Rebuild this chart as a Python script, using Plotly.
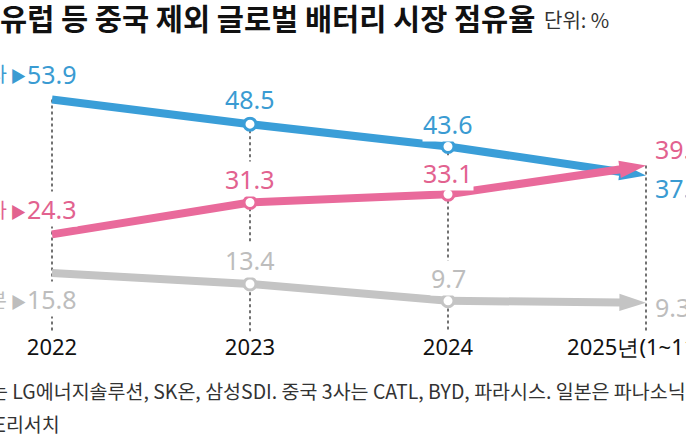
import plotly.graph_objects as go

# data
years = ["2022", "2023", "2024", "2025년(1~11월)"]
korea = [53.9, 48.5, 43.6, 37.2]
china = [24.3, 31.3, 33.1, 39.4]
japan = [15.8, 13.4, 9.7, 9.3]
series_names = ["한국 3사", "중국 3사", "일본"]

title = "유럽 등 중국 제외 글로벌 배터리 시장 점유율"
unit = "단위: %"
note = "한국 3사는 LG에너지솔루션, SK온, 삼성SDI. 중국 3사는 CATL, BYD, 파라시스. 일본은 파나소닉"
source = "자료: SNE리서치"

W, H = 686, 440
T, B = 80, 108
PLOT_H = H - T - B

NUM_FONT = "Noto Sans, sans-serif"
KR_FONT = "Noto Sans CJK KR, sans-serif"


def px_x(px):
    return px / W


def px_y(px):
    return (H - B - px) / PLOT_H


xs = list(range(len(years)))
styles = [
    # values, line colour, text colour, label shifts (x, y) per point, name label shift
    (korea, "#3a9ed8", "#3a9bd2", [(0, 26), (0, 25), (0, 22), (8, -12)], 26),
    (china, "#e96a9b", "#e2628f", [(0, 25), (0, 23), (0, 21), (8, 17)], 25),
    (japan, "#c4c4c4", "#bdbdbd", [(0, -26), (0, 24), (0, 23), (8, -4)], -26),
]

fig = go.Figure()

# dotted guide lines, from the top point down to the axis
for i in xs:
    top = max(korea[i], china[i], japan[i])
    fig.add_shape(
        type="line", xref="x", yref="y", x0=i, x1=i, y0=top, y1=0,
        line=dict(color="#444", width=1.5, dash="dot"), layer="below",
    )

annotations = []
for (vals, col, tcol, shifts, name_shift), name in zip(styles, series_names):
    n = len(vals)
    fig.add_trace(
        go.Scatter(
            x=xs, y=vals, mode="lines+markers", name=name,
            line=dict(color=col, width=8),
            marker=dict(
                symbol=["circle"] * (n - 1) + ["arrow"],
                angleref="previous",
                size=[12] * (n - 1) + [28],
                color=["white"] * (n - 1) + [col],
                line=dict(color=col, width=[3] * (n - 1) + [0]),
                opacity=1,
            ),
            hoverinfo="skip",
        )
    )
    for i, v in enumerate(vals):
        dx, dy = shifts[i]
        last = i == n - 1
        annotations.append(dict(
            x=i, y=v, xref="x", yref="y", text=f"{v:.1f}", showarrow=False,
            xanchor="left" if last else "center", yanchor="middle",
            xshift=dx, yshift=dy, bgcolor="white", borderpad=0,
            font=dict(family=NUM_FONT, size=25, color=tcol),
        ))
    annotations.append(dict(
        x=0, y=vals[0], xref="x", yref="y", showarrow=False,
        text=f"{name}<span style='font-size:16px'> ▶</span>",
        xanchor="right", yanchor="middle", xshift=-24, yshift=name_shift,
        font=dict(family=KR_FONT, size=20, color=tcol),
    ))

annotations += [
    dict(x=px_x(-2), y=px_y(17), xref="paper", yref="paper", text=f"<b>{title}</b>",
         showarrow=False, xanchor="left", yanchor="middle",
         font=dict(family=KR_FONT, size=29.5, color="#111")),
    dict(x=px_x(542), y=px_y(20), xref="paper", yref="paper", text=unit,
         showarrow=False, xanchor="left", yanchor="middle",
         font=dict(family=KR_FONT, size=20, color="#333")),
    dict(x=px_x(-81), y=px_y(390), xref="paper", yref="paper", text=note,
         showarrow=False, xanchor="left", yanchor="middle",
         font=dict(family=KR_FONT, size=19.5, color="#333")),
    dict(x=px_x(62), y=px_y(423), xref="paper", yref="paper", text=source,
         showarrow=False, xanchor="right", yanchor="middle",
         font=dict(family=KR_FONT, size=19.5, color="#333")),
]

fig.update_layout(
    width=W, height=H,
    margin=dict(l=0, r=0, t=T, b=B, autoexpand=False),
    paper_bgcolor="white", plot_bgcolor="white",
    showlegend=False,
    annotations=annotations,
    xaxis=dict(
        range=[-52 / 198, (W - 52) / 198],
        tickvals=xs, ticktext=years,
        showgrid=False, zeroline=False, showline=False, ticks="",
        ticklabeloverflow="allow", automargin=False,
        tickfont=dict(family=NUM_FONT, size=22, color="#111"),
        fixedrange=True,
    ),
    yaxis=dict(range=[2.85, 58.2], visible=False, fixedrange=True, automargin=False),
)

fig.write_html(
    "out.html",
    config={"displayModeBar": False},
    post_script="document.body.style.margin='0';",
)
